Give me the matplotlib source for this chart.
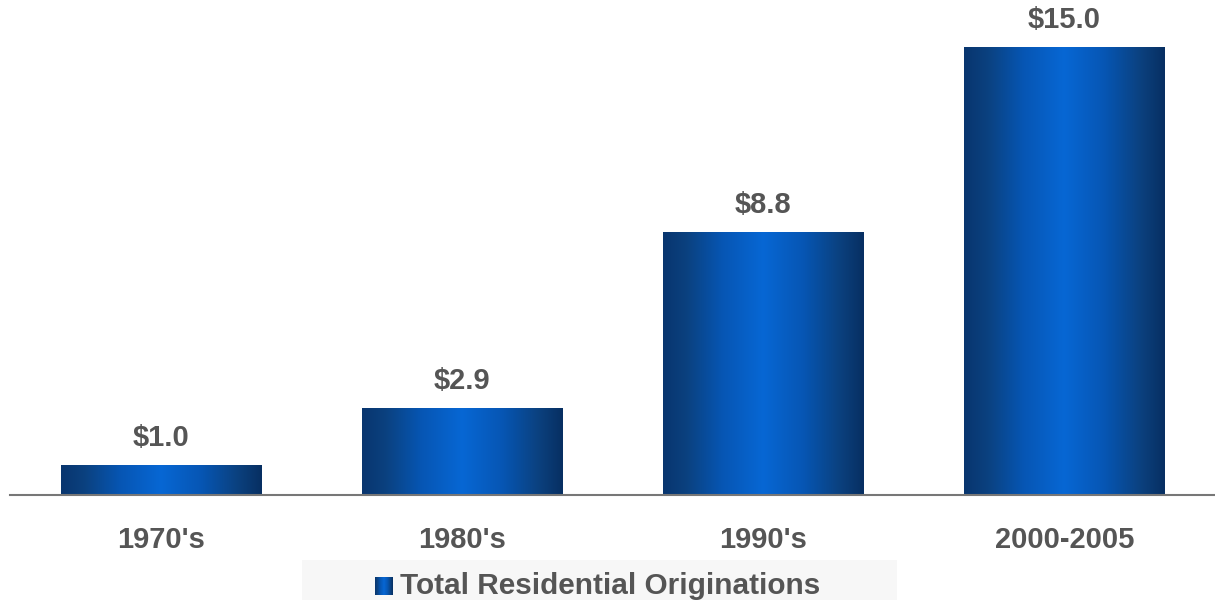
import numpy as np
import matplotlib.pyplot as plt
from matplotlib import font_manager
from matplotlib.colors import LinearSegmentedColormap
from matplotlib.patches import Rectangle
from matplotlib.transforms import blended_transform_factory

categories = ["1970's", "1980's", "1990's", "2000-2005"]
values = [1.0, 2.9, 8.8, 15.0]
value_labels = ["$1.0", "$2.9", "$8.8", "$15.0"]
series_name = "Total Residential Originations"

# pick the regular-width bold Liberation Sans face (not the Narrow variant)
bold_path = None
for f in font_manager.fontManager.ttflist:
    if f.name == 'Liberation Sans' and 'Narrow' not in f.fname and f.weight in (700, 'bold') \
            and f.style == 'normal':
        bold_path = f.fname
        break
if bold_path:
    fp = font_manager.FontProperties(fname=bold_path, size=21)
    fp_leg = font_manager.FontProperties(fname=bold_path, size=21.4)
else:
    fp = font_manager.FontProperties(family='DejaVu Sans', weight='bold', size=19)
    fp_leg = font_manager.FontProperties(family='DejaVu Sans', weight='bold', size=19)

text_color = '#555555'
W, H = 1215, 602

fig = plt.figure(figsize=(W / 100, H / 100), dpi=100)
ax_bottom_px, ax_height_px = 107, 478
ax = fig.add_axes([10 / W, ax_bottom_px / H, 1205 / W, ax_height_px / H])
ax.set_xlim(-0.5, 3.5)
ax.set_ylim(0, 16)
units_per_px = 16 / ax_height_px

cmap = LinearSegmentedColormap.from_list(
    'bar_grad',
    [(0.0, '#08356e'), (0.12, '#0b417f'), (0.3, '#0656b4'),
     (0.5, '#0767d4'), (0.7, '#0656b4'), (0.88, '#0b417f'), (1.0, '#072f62')])
grad = np.linspace(0, 1, 256).reshape(1, -1)

width = 0.67
bars = ax.bar(range(len(values)), values, width=width, color='none', edgecolor='none')
for bar, lab in zip(bars, value_labels):
    x0, w, h = bar.get_x(), bar.get_width(), bar.get_height()
    im = ax.imshow(grad, cmap=cmap, aspect='auto', extent=[x0, x0 + w, 0, h],
                   interpolation='bicubic', zorder=2)
    clip = Rectangle((x0 + 0.003, 0), w, h, transform=ax.transData)
    im.set_clip_path(clip)
    ax.text(x0 + w / 2, h + 19 * units_per_px, lab, ha='center', va='baseline',
            fontproperties=fp, color=text_color)

# category labels below the baseline
trans = blended_transform_factory(ax.transData, ax.transAxes)
for i, cat in enumerate(categories):
    ax.text(i, -53 / ax_height_px, cat, ha='center', va='baseline',
            transform=trans, fontproperties=fp, color=text_color)

ax.set_xticks([])
ax.set_yticks([])
for side in ['top', 'right', 'left']:
    ax.spines[side].set_visible(False)
ax.spines['bottom'].set_color('#777777')
ax.spines['bottom'].set_linewidth(1.5)
ax.set_zorder(1)

# legend panel
leg_ax = fig.add_axes([302 / W, 2 / H, 595 / W, 40 / H])
leg_ax.set_xlim(302, 897)
leg_ax.set_ylim(H - 2, H - 42)
leg_ax.axis('off')
leg_ax.add_patch(Rectangle((302, H - 42), 595, 40, facecolor='#f7f7f7', edgecolor='none'))
leg_ax.imshow(grad, cmap=cmap, aspect='auto', extent=[375, 393, 595, 577], zorder=2)
leg_ax.text(400, 594, series_name, ha='left', va='baseline',
            fontproperties=fp_leg, color=text_color)

fig.savefig('out.png', dpi=100)
